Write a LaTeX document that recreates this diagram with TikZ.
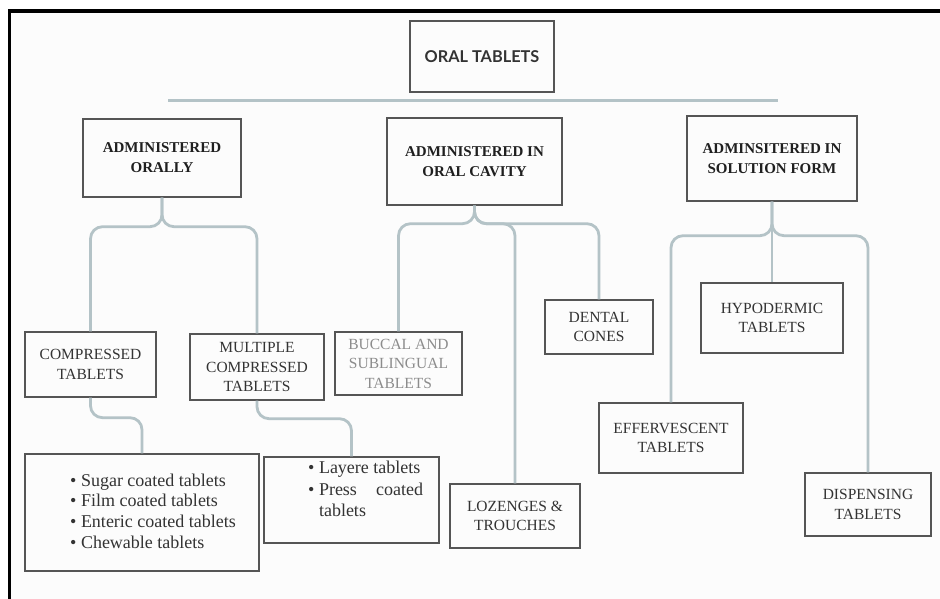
\documentclass[tikz,border=0pt]{standalone}
\usepackage{fontspec}
\setmainfont{Liberation Serif}
\newfontfamily\headsans{Lato}
\definecolor{conncol}{HTML}{B4C3C7}
\definecolor{boxcol}{HTML}{555555}
\definecolor{txtcol}{HTML}{333333}
\definecolor{fadecol}{HTML}{8C8C8C}
\definecolor{bgcol}{HTML}{FCFCFC}
\tikzset{
  box/.style={draw=boxcol, line width=1.4pt, inner sep=0pt, align=center, text=txtcol,
    font=\fontsize{15.5}{19.5}\selectfont},
  headbox/.style={box, text=black!88, font=\bfseries\fontsize{15}{20}\selectfont},
  conn/.style={draw=conncol, line width=2.8pt, rounded corners=12pt},
  framepen/.style={line width=3.6pt, draw=black}
}
\begin{document}
\begin{tikzpicture}[x=1pt,y=-1pt]
\useasboundingbox (0,0) rectangle (940,599);
\fill[bgcol] (11,12.5) rectangle (940,599);
\draw[framepen] (9.6,599) -- (9.6,10.8) -- (940,10.8);

% top
\node[box, minimum width=144pt, minimum height=71pt, text=black!80,
  font=\headsans\bfseries\fontsize{16.3}{19}\selectfont] (top) at (482,56.5) {ORAL TABLETS};
\coordinate (hl) at (168,100.5);
\coordinate (hr) at (778,100.5);
\draw[conn] (hl) -- (hr);

% second level
\node[headbox, minimum width=158pt, minimum height=78pt] (orally) at (162,158) {ADMINISTERED\\ORALLY};
\node[headbox, minimum width=175pt, minimum height=87pt] (cavity) at (474.5,161.5) {ADMINISTERED IN\\ORAL CAVITY};
\node[headbox, minimum width=170pt, minimum height=85pt] (solution) at (772,158.5) {ADMINSITERED IN\\SOLUTION FORM};

% third level
\node[box, minimum width=131pt, minimum height=65pt] (comp) at (90.5,364.5) {COMPRESSED\\TABLETS};
\node[box, minimum width=134pt, minimum height=66pt] (multi) at (257,367) {MULTIPLE\\COMPRESSED\\TABLETS};
\node[box, minimum width=127pt, minimum height=63pt, text=fadecol] (buccal) at (398.5,363.5) {BUCCAL AND\\SUBLINGUAL\\TABLETS};
\node[box, minimum width=108pt, minimum height=54pt] (dental) at (599,327) {DENTAL\\CONES};
\node[box, minimum width=130pt, minimum height=64pt] (loz) at (515,516) {LOZENGES \&\\TROUCHES};
\node[box, minimum width=142pt, minimum height=70pt] (hypo) at (772,318) {HYPODERMIC\\TABLETS};
\node[box, minimum width=144pt, minimum height=70pt] (eff) at (671,438) {EFFERVESCENT\\TABLETS};
\node[box, minimum width=126pt, minimum height=63pt] (disp) at (868,504.5) {DISPENSING\\TABLETS};

% lists
\node[box, minimum width=234pt, minimum height=117pt] (sugar) at (142,512.5) {};
\node[anchor=west, inner sep=0pt, text=txtcol, font=\fontsize{18}{20.6}\selectfont, align=left]
  (sugarlist) at (70,511) {\textbullet\ Sugar coated tablets\\\textbullet\ Film coated tablets\\\textbullet\ Enteric coated tablets\\\textbullet\ Chewable tablets};
\node[box, minimum width=175pt, minimum height=86pt] (layere) at (351.5,500) {};
\node[anchor=north west, inner sep=0pt, text=txtcol, font=\fontsize{18}{21.5}\selectfont, align=left]
  (layerelist) at (308,461) {\textbullet\ Layere tablets\\\textbullet\ \hbox to 104pt{Press\hfill coated}\\\hphantom{\textbullet\ }tablets};

% connectors
\draw[conn] (orally.south) -- ++(0,29) -| (comp.north);
\draw[conn] (orally.south) -- ++(0,29) -| (multi.north);
\draw[conn] (comp.south) -- ++(0,20) -| (sugar.north);
\draw[conn] (multi.south) -- ++(0,18) -| (layere.north);
\draw[conn] (cavity.south) -- ++(0,18) -| (buccal.north);
\draw[conn] (cavity.south) -- ++(0,18) -| (loz.north);
\draw[conn] (cavity.south) -- ++(0,18) -| (dental.north);
\draw[conn] (solution.south) -- ++(0,34) -| (eff.north);
\draw[conn] (solution.south) -- ++(0,34) -| (disp.north);
\draw[conn] (solution.south) -- (hypo.north);
\end{tikzpicture}
\end{document}
